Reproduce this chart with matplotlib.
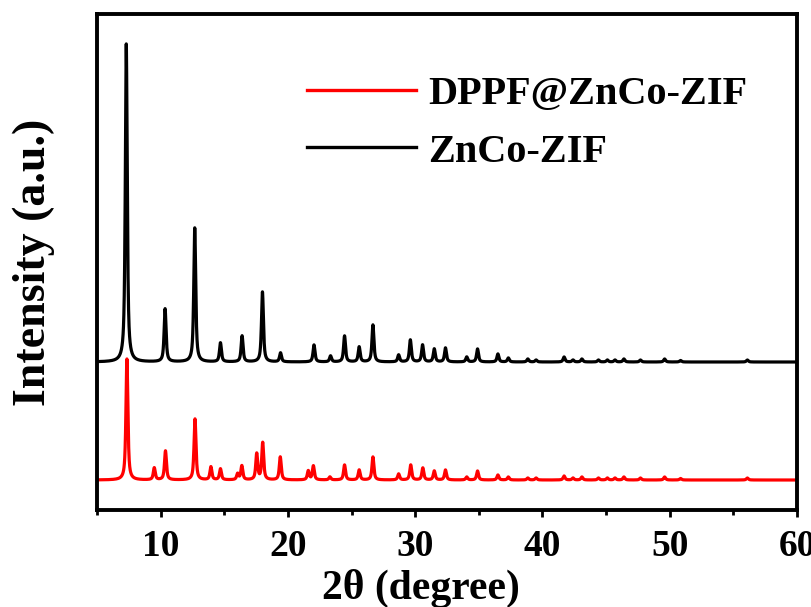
import numpy as np
import matplotlib
matplotlib.use("Agg")
import matplotlib.pyplot as plt

plt.rcParams['font.family'] = ['Liberation Serif', 'DejaVu Serif']
plt.rcParams['font.weight'] = 'bold'

# peak lists (2theta in degree, height in a.u.)
zif_pos = [7.30, 10.35, 12.68, 14.70, 16.40, 18.00, 19.42, 22.05, 23.35, 24.45,
           25.60, 26.68, 28.70, 29.62, 30.58, 31.50, 32.38, 34.05, 34.90, 36.50,
           37.32, 38.85, 39.50, 41.70, 42.40, 43.10, 44.40, 45.10, 45.70, 46.40,
           47.70, 49.60, 50.85, 56.10]
zif_int = [318, 53, 134, 19, 26, 70, 9, 17, 6, 26,
           15, 37, 7, 22, 17, 13, 14, 5, 13, 8,
           4, 3, 2, 5, 2, 3, 2, 2, 2, 3,
           2, 3, 1.5, 2]

dppf_pos = [7.35, 9.50, 10.38, 12.70, 13.95, 14.70, 16.05, 16.38, 17.55, 18.02,
            19.40, 21.60, 22.00, 23.30, 24.45, 25.60, 26.68, 28.70, 29.65, 30.60,
            31.50, 32.38, 34.05, 34.90, 36.50, 37.32, 38.85, 39.50, 41.70, 42.40,
            43.10, 44.40, 45.10, 45.70, 46.40, 47.70, 49.60, 50.85, 56.10]
dppf_int = [121, 12, 29, 61, 13, 11, 6, 14, 26, 37,
            23, 9, 14, 3, 15, 10, 23, 6, 15, 12,
            9, 10, 3, 9, 5, 3, 2, 2, 4, 2,
            3, 2, 2, 2, 3, 2, 3, 1.5, 2]

zif_base = 148
dppf_base = 30
fwhm = 0.18


def pattern(x, pos, inten, base):
    # pseudo-Voigt peaks on a flat background
    y = np.full_like(x, float(base))
    g = fwhm / 2.0
    for p, h in zip(pos, inten):
        lor = g**2 / ((x - p)**2 + g**2)
        gau = np.exp(-np.log(2) * ((x - p) / g)**2)
        y += h * (0.75 * lor + 0.25 * gau)
    return y


two_theta = np.arange(5, 60.001, 0.01)
y_zif = pattern(two_theta, zif_pos, zif_int, zif_base)
y_dppf = pattern(two_theta, dppf_pos, dppf_int, dppf_base)

fig = plt.figure(figsize=(8.11, 6.07), dpi=100)
ax = fig.add_axes([97 / 811, 97 / 607, 700 / 811, 496 / 607])

ax.plot(two_theta, y_dppf, color='#ff0000', lw=2.3, label='DPPF@ZnCo-ZIF')
ax.plot(two_theta, y_zif, color='black', lw=2.3, label='ZnCo-ZIF')

ax.set_xlim(5, 60)
ax.set_ylim(0, 496)
ax.set_xticks([10, 20, 30, 40, 50, 60])
ax.set_xticks([5, 15, 25, 35, 45, 55], minor=True)
ax.set_yticks([])
ax.tick_params(axis='x', which='major', direction='out', length=5, width=2,
               labelsize=27, pad=9)
ax.tick_params(axis='x', which='minor', direction='out', length=3.5, width=2)
for s in ax.spines.values():
    s.set_linewidth(2.8)

ax.set_xlabel('2θ (degree)', fontsize=30, fontweight='bold')
ax.xaxis.set_label_coords(0.463, -0.118, transform=ax.transAxes)
ax.xaxis.label.set_va('top')
ax.set_ylabel('Intensity (a.u.)', fontsize=33, fontweight='bold', labelpad=30)

leg = ax.legend(loc='upper left', bbox_to_anchor=(0.30, 0.875), frameon=False,
                fontsize=29, handlelength=2.7, handletextpad=0.3,
                labelspacing=0.5, borderaxespad=0, borderpad=0)
for line in leg.get_lines():
    line.set_linewidth(2.4)

fig.savefig('out.png', dpi=100)
